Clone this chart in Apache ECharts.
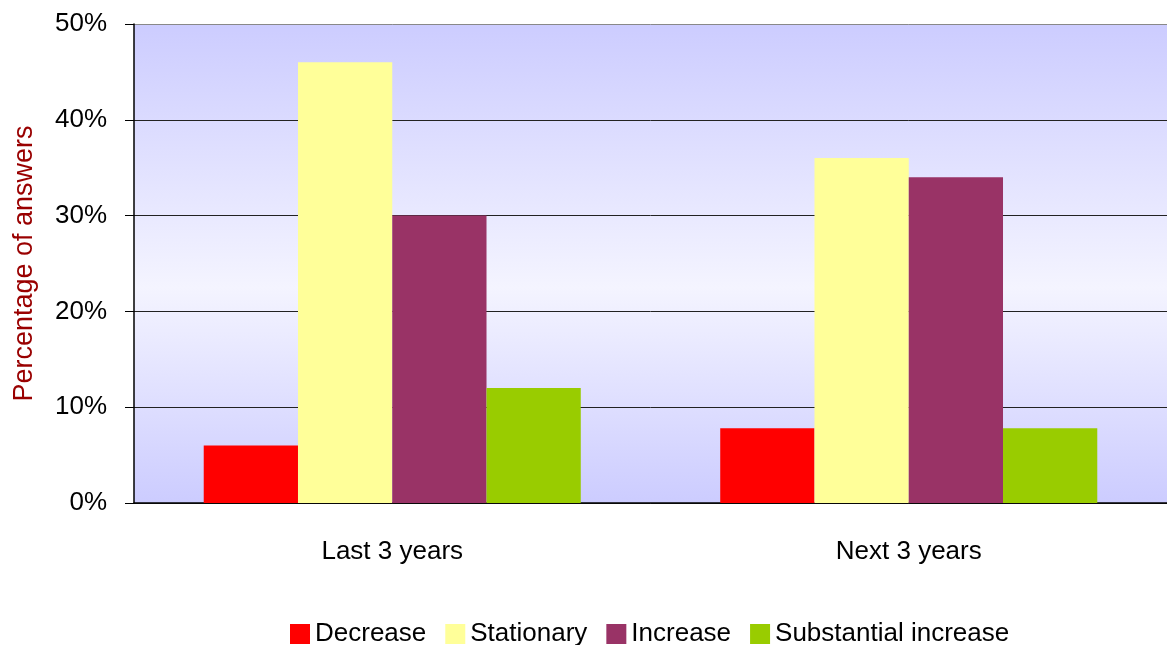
<!DOCTYPE html>
<html>
<head>
<meta charset="utf-8">
<script src="https://cdn.jsdelivr.net/npm/echarts@6/dist/echarts.min.js"></script>
<style>
  html, body { margin: 0; padding: 0; background: #fff; }
  #chart { width: 1167px; height: 645px; }
</style>
</head>
<body>
<div id="chart"></div>
<script>
// Survey answers by period
const categories = ['Last 3 years', 'Next 3 years'];
const seriesNames = ['Decrease', 'Stationary', 'Increase', 'Substantial increase'];
const decrease = [6, 7.8];
const stationary = [46, 36];
const increase = [30, 34];
const substantialIncrease = [12, 7.8];
const yTicks = [0, 10, 20, 30, 40, 50];

const values = [decrease, stationary, increase, substantialIncrease];
const colors = ['#FF0000', '#FFFF99', '#993366', '#99CC00'];
const font = "'Liberation Sans', Arial, sans-serif";

const chart = echarts.init(document.getElementById('chart'));
chart.setOption({
  animation: false,
  textStyle: { fontFamily: font },
  grid: {
    left: 134, right: 0, top: 24, bottom: 142,
    outerBoundsMode: 'none',
    containLabel: false,
    show: true,
    borderWidth: 0,
    backgroundColor: {
      type: 'linear', x: 0, y: 0, x2: 0, y2: 1,
      colorStops: [
        { offset: 0, color: '#CCCCFF' },
        { offset: 0.55, color: '#F4F4FF' },
        { offset: 1, color: '#CCCCFF' }
      ]
    }
  },
  legend: {
    top: 616,
    left: 285,
    itemWidth: 20,
    itemHeight: 20,
    itemGap: 19,
    icon: 'rect',
    textStyle: { fontFamily: font, fontSize: 26, color: '#000' },
    data: seriesNames
  },
  xAxis: {
    type: 'category',
    data: categories,
    axisLine: { lineStyle: { color: '#000', width: 1.5 } },
    axisTick: { length: 12, lineStyle: { color: '#000' } },
    axisLabel: { fontFamily: font, fontSize: 26, color: '#000', margin: 36 }
  },
  yAxis: {
    type: 'value',
    min: yTicks[0],
    max: yTicks[yTicks.length - 1],
    interval: 10,
    name: 'Percentage of answers',
    nameLocation: 'middle',
    nameGap: 96,
    nameTextStyle: { fontFamily: font, fontSize: 27, color: '#990000' },
    axisLine: { show: true, lineStyle: { color: '#000', width: 1.5 } },
    axisTick: { show: true, length: 9, lineStyle: { color: '#000' } },
    axisLabel: { fontFamily: font, fontSize: 26, color: '#000', margin: 27, formatter: '{value}%' },
    splitLine: {
      lineStyle: {
        // top border of the plot is a lighter, heavier rule
        color: ['#222', '#222', '#222', '#222', '#222', '#888'],
        width: 1
      }
    }
  },
  series: seriesNames.map((name, i) => ({
    name: name,
    type: 'bar',
    data: values[i],
    barGap: '0%',
    barCategoryGap: '27%',
    itemStyle: { color: colors[i] }
  }))
});
</script>
</body>
</html>
